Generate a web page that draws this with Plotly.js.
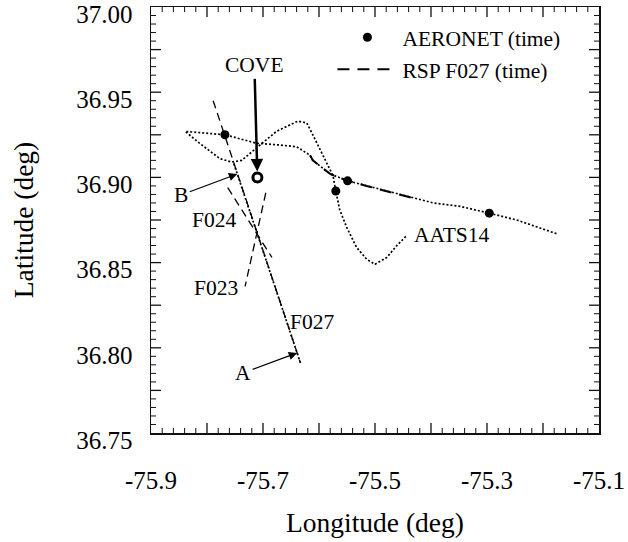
<!DOCTYPE html>
<html>
<head>
<meta charset="utf-8">
<script src="https://cdn.plot.ly/plotly-3.0.1.min.js"></script>
<style>html,body{margin:0;padding:0;background:#fff;}#chart{width:628px;height:542px;}</style>
</head>
<body>
<div id="chart"></div>
<script>
// ---- data (longitude / latitude, degrees) ----
// AATS14 flight track (dotted), east end -> west loop -> back east to label
const trackLon = [-75.176, -75.247, -75.296, -75.348, -75.396, -75.455, -75.515, -75.549, -75.580, -75.611, -75.616, -75.640, -75.670, -75.711, -75.768, -75.839,
                  -75.813, -75.777, -75.756, -75.738, -75.709, -75.676, -75.638, -75.622, -75.611, -75.598, -75.586, -75.575, -75.570, -75.563, -75.551, -75.533, -75.515, -75.500, -75.479, -75.461, -75.443];
const trackLat = [36.867, 36.875, 36.879, 36.883, 36.885, 36.890, 36.895, 36.898, 36.902, 36.910, 36.913, 36.918, 36.919, 36.920, 36.925, 36.927,
                  36.920, 36.911, 36.909, 36.910, 36.918, 36.927, 36.933, 36.932, 36.925, 36.916, 36.908, 36.901, 36.892, 36.881, 36.871, 36.859, 36.852, 36.849, 36.853, 36.860, 36.866];
// AATS14 leg from B to A (dotted, along the F027 line)
const legBALon = [-75.752, -75.632];
const legBALat = [36.908, 36.790];
// Flight lines (dashed)
const f027Lon = [-75.789, -75.634];
const f027Lat = [36.945, 36.792];
const f024Lon = [-75.763, -75.684];
const f024Lat = [36.894, 36.853];
const f023Lon = [-75.695, -75.732];
const f023Lat = [36.891, 36.836];
// RSP F027 (time) segment along the track
const rspLon = [-75.616, -75.611, -75.580, -75.549, -75.515, -75.455, -75.434];
const rspLat = [36.913, 36.910, 36.902, 36.898, 36.895, 36.890, 36.888];
// AERONET (time) points
const aeronetLon = [-75.768, -75.570, -75.549, -75.296];
const aeronetLat = [36.925, 36.892, 36.898, 36.879];
// COVE site
const coveLon = [-75.71];
const coveLat = [36.90];
// ticks and tick labels
const xMajor = [-75.9, -75.8, -75.7, -75.6, -75.5, -75.4, -75.3, -75.2, -75.1];
const xMajorText = ['-75.9', '', '-75.7', '', '-75.5', '', '-75.3', '', '-75.1'];
const yMajor = [36.75, 36.775, 36.80, 36.825, 36.85, 36.875, 36.90, 36.925, 36.95, 36.975, 37.00];
const yMajorText = ['36.75', '', '36.80', '', '36.85', '', '36.90', '', '36.95', '', '37.00'];
const xMinorStep = 0.02;
const yMinorStep = 0.005;

const FONT = 'Liberation Serif, Times New Roman, serif';
const dotted = {color: '#000', width: 1.7, dash: '2px,2px'};
const dashed = {color: '#000', width: 1.3, dash: '8px,5px'};

const traces = [
  {x: trackLon, y: trackLat, mode: 'lines', line: dotted, showlegend: false, hoverinfo: 'skip'},
  {x: legBALon, y: legBALat, mode: 'lines', line: dotted, showlegend: false, hoverinfo: 'skip'},
  {x: f027Lon, y: f027Lat, mode: 'lines', line: dashed, showlegend: false},
  {x: f024Lon, y: f024Lat, mode: 'lines', line: dashed, showlegend: false},
  {x: f023Lon, y: f023Lat, mode: 'lines', line: dashed, showlegend: false},
  {x: rspLon, y: rspLat, mode: 'lines', name: 'RSP F027 (time)', legendgroup: 'b', legendrank: 2,
   line: {color: '#000', width: 2, dash: '12px,8px'}},
  {x: aeronetLon, y: aeronetLat, mode: 'markers', name: 'AERONET (time)', legendgroup: 'a', legendrank: 1,
   marker: {color: '#000', size: 9, symbol: 'circle'}},
  {x: coveLon, y: coveLat, mode: 'markers', showlegend: false,
   marker: {color: '#000', size: 9, symbol: 'circle-open', line: {width: 3, color: '#000'}}}
];

// inside tick marks on all four sides, placed through the axis scales (x/y refs)
const TICK = '#111';
const shapes = [];
function xTick(v, len, w) {
  shapes.push({type: 'line', xref: 'x', yref: 'paper', ysizemode: 'pixel', yanchor: 0, x0: v, x1: v, y0: 0, y1: len, line: {color: TICK, width: w}});
  shapes.push({type: 'line', xref: 'x', yref: 'paper', ysizemode: 'pixel', yanchor: 1, x0: v, x1: v, y0: 0, y1: -len, line: {color: TICK, width: w}});
}
function yTick(v, len, w) {
  shapes.push({type: 'line', yref: 'y', xref: 'paper', xsizemode: 'pixel', xanchor: 0, y0: v, y1: v, x0: 0, x1: len, line: {color: TICK, width: w}});
  shapes.push({type: 'line', yref: 'y', xref: 'paper', xsizemode: 'pixel', xanchor: 1, y0: v, y1: v, x0: 0, x1: -len, line: {color: TICK, width: w}});
}
xMajor.slice(1, -1).forEach(v => xTick(v, 10, 1.3));
yMajor.slice(1, -1).forEach(v => yTick(v, 10, 1.3));
const nx = Math.round((xMajor[xMajor.length - 1] - xMajor[0]) / xMinorStep);
for (let k = 1; k < nx; k++) { if (k % 5) xTick(xMajor[0] + k * xMinorStep, 5, 1); }
const ny = Math.round((yMajor[yMajor.length - 1] - yMajor[0]) / yMinorStep);
for (let k = 1; k < ny; k++) { if (k % 5) yTick(yMajor[0] + k * yMinorStep, 5, 1); }

const axBase = {
  showline: true, linecolor: '#111', linewidth: 1.5, mirror: true,
  ticks: '', showgrid: false, zeroline: false, tickmode: 'array',
  tickfont: {family: FONT, size: 25, color: '#000'}
};

const layout = {
  width: 628, height: 542,
  margin: {l: 151, r: 29, t: 7, b: 109, pad: 0},
  paper_bgcolor: '#fff', plot_bgcolor: '#fff',
  font: {family: FONT, size: 21, color: '#000'},
  showlegend: true,
  legend: {x: 0.405, y: 0.977, xanchor: 'left', yanchor: 'top', bgcolor: 'rgba(0,0,0,0)',
           font: {family: FONT, size: 21.5, color: '#000'}, traceorder: 'grouped', tracegroupgap: 1, itemwidth: 60},
  xaxis: Object.assign({}, axBase, {range: [-75.9, -75.1], tickvals: xMajor, ticktext: xMajorText,
    ticklabelstandoff: 24,
    title: {text: 'Longitude (deg)', font: {family: FONT, size: 27.5, color: '#000'}, standoff: 20}}),
  yaxis: Object.assign({}, axBase, {range: [36.75, 37.0], tickvals: yMajor, ticktext: yMajorText,
    ticklabelstandoff: 12, ticklabelshift: 7,
    title: {text: 'Latitude (deg)', font: {family: FONT, size: 27.5, color: '#000'}, standoff: 34}}),
  shapes: shapes,
  annotations: [
    {x: -75.71, y: 36.90, xref: 'x', yref: 'y', text: 'COVE', showarrow: true, ax: -3, ay: -112,
     arrowhead: 2, arrowsize: 1, arrowwidth: 2.5, arrowcolor: '#000', standoff: 6, font: {family: FONT, size: 21.5}},
    {x: -75.746, y: 36.902, xref: 'x', yref: 'y', text: 'B', showarrow: true, ax: -56, ay: 21,
     arrowhead: 2, arrowsize: 1.4, arrowwidth: 1.2, arrowcolor: '#000', font: {family: FONT, size: 21.5}},
    {x: -75.639, y: 36.797, xref: 'x', yref: 'y', text: 'A', showarrow: true, ax: -54, ay: 20,
     arrowhead: 2, arrowsize: 1.4, arrowwidth: 1.2, arrowcolor: '#000', font: {family: FONT, size: 21.5}},
    {x: -75.788, y: 36.875, xref: 'x', yref: 'y', text: 'F024', showarrow: false, font: {family: FONT, size: 21.5}},
    {x: -75.784, y: 36.835, xref: 'x', yref: 'y', text: 'F023', showarrow: false, font: {family: FONT, size: 21.5}},
    {x: -75.612, y: 36.815, xref: 'x', yref: 'y', text: 'F027', showarrow: false, font: {family: FONT, size: 21.5}},
    {x: -75.363, y: 36.866, xref: 'x', yref: 'y', text: 'AATS14', showarrow: false, font: {family: FONT, size: 21.5}}
  ]
};

Plotly.newPlot('chart', traces, layout, {staticPlot: true});
</script>
</body>
</html>
